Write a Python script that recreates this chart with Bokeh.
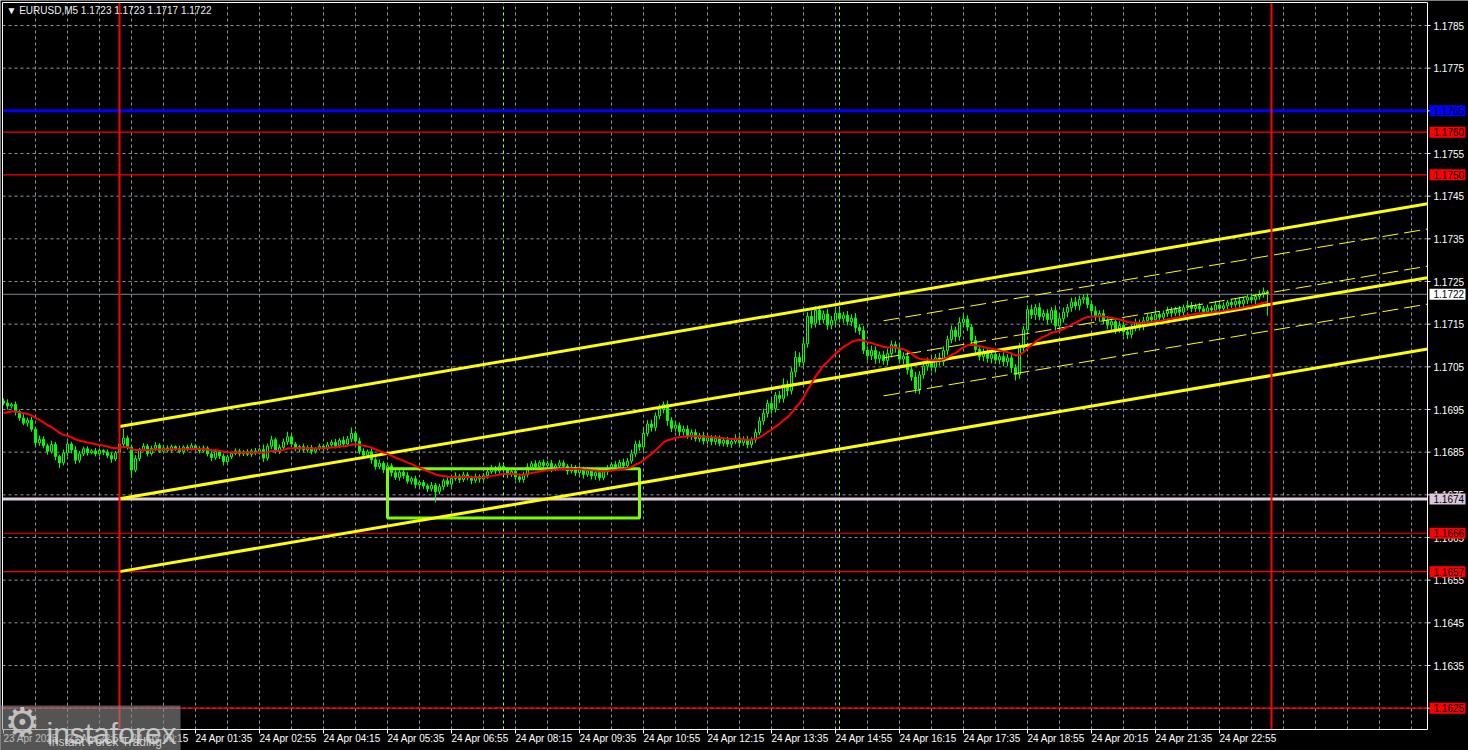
import numpy as np
from bokeh.plotting import figure
from bokeh.models import Range1d, ColumnDataSource
from bokeh.core.properties import value
from bokeh.embed import file_html
from bokeh.resources import INLINE

# ------------------------------------------------------------------ data
title_text = "\u25BC EURUSD,M5  1.1723 1.1723 1.1717 1.1722"
base_price = 1.1600          # close_pips are measured in pips above this price
pip = 0.0001
first_bar = -29              # bar index of first candle, 5-minute bars, 0 = 24 Apr 00:00
first_open = 97.0

close_pips = [
    96.5, 95.8, 96.2, 94.5, 93.0, 91.8, 92.5, 90.4, 87.2, 88.0,
    86.5, 85.2, 86.8, 84.0, 82.5, 84.8, 86.9, 85.5, 83.1, 84.6,
    85.8, 84.9, 85.3, 84.6, 85.4, 85.0, 84.2, 83.4, 84.8, 86.9,
    88.3, 86.2, 80.8, 83.5, 85.6, 86.4, 84.7, 85.9, 86.6, 85.2,
    86.0, 85.4, 86.3, 85.8, 85.1, 86.2, 85.7, 86.5, 85.9, 85.3,
    86.0, 84.6, 83.7, 85.2, 84.1, 82.8, 83.9, 84.7, 85.3, 84.6,
    85.1, 84.5, 85.3, 84.8, 85.6, 83.6, 86.4, 87.9, 85.2, 86.1,
    87.4, 88.6, 86.9, 85.8, 86.3, 85.5, 86.1, 85.2, 85.8, 86.4,
    85.9, 86.7, 87.3, 86.5, 87.8, 86.9, 88.1, 89.4, 87.6, 85.2,
    84.3, 85.1, 83.2, 81.6, 82.4, 80.9, 81.8, 80.2, 79.1, 80.3,
    79.5, 78.2, 78.8, 77.4, 77.9, 77.1, 76.4, 77.2, 75.8, 76.9,
    78.3, 77.5, 78.8, 79.4, 78.6, 79.7, 79.1, 78.4, 79.3, 78.7,
    79.5, 80.4, 81.3, 80.6, 81.7, 80.9, 79.8, 80.5, 79.2, 78.6,
    79.7, 81.5, 82.3, 81.6, 82.6, 81.9, 82.4, 81.2, 81.8, 82.5,
    81.7, 80.6, 81.4, 80.2, 81.1, 79.8, 80.6, 79.4, 80.2, 79.0,
    80.4, 81.3, 82.1, 81.5, 82.6, 81.8, 82.9, 84.6, 86.9, 86.2,
    89.4, 91.6, 90.8, 93.5, 95.1, 96.2, 92.4, 90.6, 91.3, 89.8,
    90.4, 88.9, 89.6, 88.2, 88.9, 87.6, 88.4, 87.5, 88.2, 87.1,
    87.8, 86.9, 87.5, 88.3, 87.2, 88.0, 86.8, 87.9, 89.6, 92.3,
    94.1, 96.4, 95.2, 98.3, 97.6, 100.9, 99.4, 103.8, 107.2, 106.1,
    110.4, 116.8, 115.2, 118.3, 116.1, 117.4, 114.8, 115.9, 117.6, 116.3,
    117.1, 115.6, 116.4, 114.2, 113.5, 108.9, 107.6, 108.8, 106.9, 107.8,
    106.5, 108.1, 110.2, 109.4, 106.8, 107.5, 104.3, 102.6, 99.8, 103.1,
    105.2, 106.4, 104.9, 107.1, 106.2, 108.8, 111.4, 113.6, 112.1, 115.4,
    116.2, 114.3, 111.2, 109.1, 107.4, 108.3, 107.0, 107.9, 106.6, 107.4,
    106.2, 107.1, 104.8, 103.2, 109.5, 113.7, 118.4, 117.2, 118.9, 116.8,
    117.5, 116.1, 118.2, 114.6, 116.3, 117.8, 118.9, 120.2, 119.3, 120.8,
    121.2, 119.6, 118.1, 116.8, 117.5, 115.9, 114.8, 115.6, 113.9, 114.7,
    113.2, 112.6, 114.1, 115.3, 114.5, 115.8, 116.7, 116.0, 117.3, 116.6,
    117.5, 118.2, 117.6, 118.5, 117.8, 118.9, 119.4, 118.7, 119.2, 118.6,
    117.9, 118.8, 118.3, 119.5, 118.7, 119.3, 120.1, 119.6, 120.4, 119.8,
    120.6, 121.3, 120.7, 121.5, 122.1, 122.6, 122.2,
]

# upper / lower shadow lengths in tenths of a pip
wick_up = [
    6, 9, 4, 7, 5, 10, 6, 8, 5, 9,
    7, 5, 9, 6, 4, 8, 6, 5, 9, 7,
    5, 6, 4, 7, 5, 3, 6, 8, 5, 9,
    22, 6, 5, 8, 4, 7, 5, 6, 8, 5,
    4, 6, 5, 3, 7, 4, 5, 6, 4, 5,
    6, 4, 7, 5, 3, 6, 5, 4, 6, 5,
    4, 6, 5, 7, 4, 12, 6, 9, 5, 7,
    8, 12, 6, 5, 4, 7, 5, 6, 4, 6,
    5, 7, 6, 8, 5, 9, 7, 14, 6, 8,
    7, 5, 8, 6, 9, 5, 7, 6, 8, 5,
    6, 8, 5, 7, 4, 6, 5, 8, 6, 7,
    5, 8, 6, 9, 5, 7, 6, 4, 7, 5,
    6, 8, 7, 5, 9, 6, 5, 7, 6, 8,
    7, 9, 6, 8, 5, 7, 6, 8, 5, 7,
    6, 5, 8, 6, 7, 5, 9, 6, 7, 8,
    6, 7, 5, 8, 6, 9, 7, 10, 8, 9,
    12, 9, 10, 8, 11, 7, 9, 8, 10, 7,
    8, 9, 7, 8, 6, 9, 7, 6, 8, 7,
    6, 8, 7, 9, 6, 7, 8, 6, 9, 10,
    11, 9, 12, 8, 10, 14, 9, 11, 15, 12,
    13, 10, 14, 9, 11, 8, 12, 10, 9, 11,
    8, 10, 9, 12, 8, 11, 9, 12, 10, 8,
    9, 12, 10, 8, 11, 9, 10, 8, 12, 9,
    10, 8, 11, 9, 12, 10, 9, 11, 8, 12,
    10, 9, 8, 11, 9, 10, 8, 9, 11, 8,
    10, 9, 12, 8, 11, 9, 10, 12, 8, 11,
    9, 10, 8, 12, 9, 11, 8, 10, 12, 9,
    8, 10, 9, 11, 8, 9, 10, 8, 9, 10,
    8, 9, 7, 10, 8, 9, 7, 8, 10, 8,
    7, 9, 8, 6, 8, 7, 9, 8, 6, 8,
    7, 8, 6, 9, 7, 8, 6, 8, 7, 9,
    8, 7, 9, 6, 8, 10, 4,
]
wick_dn = [
    5, 8, 6, 9, 7, 5, 8, 6, 9, 7,
    6, 8, 5, 9, 12, 6, 7, 8, 9, 6,
    5, 7, 4, 6, 5, 7, 6, 9, 5, 8,
    7, 6, 18, 5, 6, 4, 7, 5, 6, 4,
    5, 4, 6, 5, 4, 6, 5, 3, 5, 6,
    4, 6, 8, 5, 7, 9, 6, 5, 4, 6,
    5, 4, 6, 5, 4, 9, 6, 7, 5, 6,
    6, 7, 5, 6, 8, 5, 6, 7, 5, 4,
    6, 5, 7, 6, 5, 7, 6, 8, 9, 7,
    8, 6, 9, 7, 6, 8, 7, 9, 6, 8,
    7, 6, 8, 9, 6, 7, 8, 6, 26, 7,
    8, 6, 7, 5, 8, 6, 7, 9, 6, 8,
    6, 7, 5, 8, 6, 7, 9, 6, 8, 7,
    8, 6, 7, 5, 8, 6, 7, 9, 6, 7,
    7, 9, 6, 8, 7, 10, 6, 8, 9, 7,
    6, 8, 7, 5, 7, 6, 8, 6, 7, 9,
    8, 7, 10, 9, 8, 10, 12, 9, 8, 10,
    9, 8, 10, 7, 9, 8, 7, 9, 8, 7,
    8, 7, 9, 6, 8, 7, 9, 8, 7, 6,
    9, 10, 12, 9, 11, 10, 13, 9, 12, 11,
    10, 9, 12, 10, 13, 9, 11, 10, 12, 9,
    10, 9, 11, 12, 10, 9, 11, 10, 12, 11,
    10, 12, 9, 11, 10, 12, 11, 9, 10, 12,
    9, 11, 10, 12, 9, 10, 11, 9, 12, 10,
    11, 9, 12, 10, 9, 11, 10, 12, 9, 10,
    11, 10, 12, 14, 10, 9, 11, 10, 12, 9,
    10, 12, 9, 11, 10, 9, 12, 10, 9, 11,
    10, 9, 11, 10, 12, 9, 10, 11, 12, 9,
    10, 11, 9, 8, 10, 9, 8, 10, 9, 8,
    9, 8, 10, 7, 9, 8, 7, 9, 8, 7,
    8, 10, 7, 9, 8, 7, 9, 8, 7, 9,
    8, 9, 7, 10, 8, 9, 52,
]
ma_period = 20               # exponential moving average (red line)
ma_start_pips = 94.2         # its value at the first visible bar

# horizontal levels
red_levels = [1.1760, 1.1750, 1.1666, 1.1657, 1.1625]
blue_level = 1.1765
lavender_level = 1.1674
bid_level = 1.1722

# price scale ticks
price_ticks = [1.1625, 1.1635, 1.1645, 1.1655, 1.1665, 1.1675, 1.1685, 1.1695,
               1.1705, 1.1715, 1.1725, 1.1735, 1.1745, 1.1755, 1.1765, 1.1775, 1.1785]

# time scale labels (bar index where each label starts)
time_label_bars = [-29, -13, 3, 19, 35, 51, 67, 83, 99, 115, 131, 147, 163, 179,
                   195, 211, 227, 243, 259, 275]
time_labels = ["23 Apr 2025", "23 Apr 22:55", "24 Apr 00:15", "24 Apr 01:35",
               "24 Apr 02:55", "24 Apr 04:15", "24 Apr 05:35", "24 Apr 06:55",
               "24 Apr 08:15", "24 Apr 09:35", "24 Apr 10:55", "24 Apr 12:15",
               "24 Apr 13:35", "24 Apr 14:55", "24 Apr 16:15", "24 Apr 17:35",
               "24 Apr 18:55", "24 Apr 20:15", "24 Apr 21:35", "24 Apr 22:55"]
grid_bars = [-29 + 8 * i for i in range(45)]

# day separators, session markers (bar index)
day_sep_bars = [0, 288]
session_bars = [96, 180]

# main price channel (thick yellow): start / end bar and prices
chan_bars = [0, 327]
chan_upper = [1.16910, 1.17432]
chan_mid = [1.16741, 1.17259]
chan_lower = [1.16570, 1.17092]
# second channel (thin dashed yellow)
chan2_bars = [191, 327]
chan2_upper = [1.17158, 1.17373]
chan2_mid = [1.17071, 1.17286]
chan2_lower = [1.16982, 1.17197]

# highlighted area (green rectangle)
box_bars = [67, 130]
box_prices = [1.16696, 1.16811]

# ------------------------------------------------------------------ layout helpers
W, H = 1468, 750
PX_PER_BAR = 4.0
X0_BAR = 119.0          # screen column of bar 0
PX_PER_PRICE = 42667.0
Y_REF, P_REF = 25.0, 1.1785


def kx(X):  # bar coordinate of screen column X
    return (X - X0_BAR) / PX_PER_BAR


def py(Y):  # price coordinate of screen row Y
    return P_REF - (Y - Y_REF) / PX_PER_PRICE


L_, R_, T_, B_ = kx(2), kx(1427), py(2), py(729)   # chart window edges

# ------------------------------------------------------------------ prep
n = len(close_pips)
idx = np.arange(first_bar, first_bar + n)
c = base_price + np.array(close_pips) * pip
o = base_price + np.array([first_open] + close_pips[:-1]) * pip
h = np.maximum(o, c) + np.array(wick_up) * 0.1 * pip
l = np.minimum(o, c) - np.array(wick_dn) * 0.1 * pip
alpha = 2.0 / (ma_period + 1)
ma = np.empty(n)
e = base_price + ma_start_pips * pip
for i in range(n):
    if i > 0:
        e = e + alpha * (c[i] - e)
    ma[i] = e
up = c >= o

FONT = "Liberation Sans"
FS = "10px"
LIME = "#00ff00"
GRID_C = "#8c96a0"

p = figure(width=W, height=H,
           x_range=Range1d(kx(0), kx(W)), y_range=Range1d(py(H), py(0)),
           output_backend="svg", toolbar_location=None,
           x_axis_location=None, y_axis_location=None,
           min_border=0, min_border_left=0, min_border_right=0,
           min_border_top=0, min_border_bottom=0,
           background_fill_color="black", border_fill_color="black",
           outline_line_color=None)
p.grid.visible = False

# grid
p.segment(x0=grid_bars[1:], y0=[B_] * (len(grid_bars) - 1), x1=grid_bars[1:],
          y1=[T_] * (len(grid_bars) - 1), line_color=GRID_C, line_width=1, line_dash="3 3")
p.segment(x0=[L_] * len(price_ticks), y0=price_ticks, x1=[R_] * len(price_ticks),
          y1=price_ticks, line_color=GRID_C, line_width=1, line_dash="3 3")

# session markers
p.segment(x0=session_bars, y0=[B_] * 2, x1=session_bars, y1=[T_] * 2,
          line_color="#adff2f", line_width=1, line_dash="3 3")

# horizontal levels
p.segment(x0=[L_] * len(red_levels), y0=red_levels, x1=[R_] * len(red_levels),
          y1=red_levels, line_color="#ff0000", line_width=1.2)
p.segment(x0=[L_], y0=[bid_level], x1=[R_], y1=[bid_level], line_color="#7a8896", line_width=1)
p.segment(x0=[L_], y0=[blue_level], x1=[R_], y1=[blue_level], line_color="#0000ff", line_width=3)
p.segment(x0=[L_], y0=[lavender_level], x1=[R_], y1=[lavender_level],
          line_color="#e2cde2", line_width=3)

# candles
src = ColumnDataSource(dict(x=idx, h=h, l=l,
                            top=np.maximum(o, c), bot=np.minimum(o, c),
                            fill=np.where(up, "#000000", LIME)))
p.segment(x0="x", y0="l", x1="x", y1="h", source=src, line_color=LIME, line_width=1)
p.vbar(x="x", top="top", bottom="bot", width=0.5, source=src,
       fill_color="fill", line_color=LIME, line_width=1)

# green rectangle
p.quad(left=[box_bars[0]], right=[box_bars[1]], bottom=[box_prices[0]], top=[box_prices[1]],
       fill_color=None, line_color="#7cfc00", line_width=3)

# channels
for ys in (chan_upper, chan_mid, chan_lower):
    p.line(chan_bars, ys, line_color="#ffff00", line_width=3)
for ys in (chan2_upper, chan2_mid, chan2_lower):
    p.line(chan2_bars, ys, line_color="#ffff00", line_width=1, line_dash="16 6")

# moving average
p.line(idx, ma, line_color="#ff0000", line_width=2)

# day separators
p.segment(x0=day_sep_bars, y0=[B_] * 2, x1=day_sep_bars, y1=[T_] * 2,
          line_color="#ff0000", line_width=2)

# chart window border
p.line([L_, L_, R_, R_, L_], [B_, T_, T_, B_, B_], line_color="white", line_width=1)

# price scale
p.segment(x0=[R_] * len(price_ticks), y0=price_ticks, x1=[kx(1430)] * len(price_ticks),
          y1=price_ticks, line_color="white", line_width=1)
p.text(x=[kx(1433)] * len(price_ticks), y=price_ticks,
       text=[f"{t:.4f}" for t in price_ticks], text_font=value(FONT),
       text_font_size=FS, text_color="white", text_align="left",
       text_baseline="middle")

# time scale
p.segment(x0=time_label_bars, y0=[B_] * len(time_label_bars), x1=time_label_bars,
          y1=[py(733)] * len(time_label_bars), line_color="white", line_width=1)
p.text(x=time_label_bars, y=[py(738)] * len(time_label_bars), text=time_labels,
       text_font=value(FONT), text_font_size=FS, text_color="white",
       text_align="left", text_baseline="middle")

# price boxes on the scale
box_levels = [blue_level] + red_levels + [bid_level, lavender_level]
box_colors = ["#0000ff"] + ["#ff0000"] * len(red_levels) + ["#ffffff", "#dcc6dc"]
p.quad(left=[kx(1429)] * len(box_levels), right=[kx(1465)] * len(box_levels),
       bottom=[b - 5.5 / PX_PER_PRICE for b in box_levels],
       top=[b + 5.5 / PX_PER_PRICE for b in box_levels],
       fill_color=box_colors, line_color=None)
p.text(x=[kx(1433)] * len(box_levels), y=box_levels, text=[f"{b:.4f}" for b in box_levels],
       text_font=value(FONT), text_font_size=FS, text_color="#000000",
       text_align="left", text_baseline="middle")

# title
p.text(x=[kx(6)], y=[py(10)], text=[title_text], text_font=value(FONT),
       text_font_size=FS, text_color="#f0f0f0", text_align="left",
       text_baseline="middle")

# watermark
p.quad(left=[kx(0)], right=[kx(180)], bottom=[py(752)], top=[py(705)],
       fill_color="#8c8c8c", fill_alpha=0.6, line_color=None)
p.text(x=[kx(4)], y=[py(721)], text=["\u2699"], text_font=value("DejaVu Sans"),
       text_font_size="40px", text_color="#d0d0d0", text_alpha=0.9,
       text_align="left", text_baseline="middle")
p.text(x=[kx(46)], y=[py(733)], text=["instaforex"], text_font=value(FONT),
       text_font_size="30px", text_color="#d0d0d0", text_alpha=0.9,
       text_align="left", text_baseline="alphabetic")
p.text(x=[kx(48)], y=[py(741)], text=["Instant Forex Trading"], text_font=value(FONT),
       text_font_size="12px", text_color="#d8d8d8", text_alpha=0.9,
       text_align="left", text_baseline="middle")

open("out.html", "w").write(file_html(p, INLINE))
